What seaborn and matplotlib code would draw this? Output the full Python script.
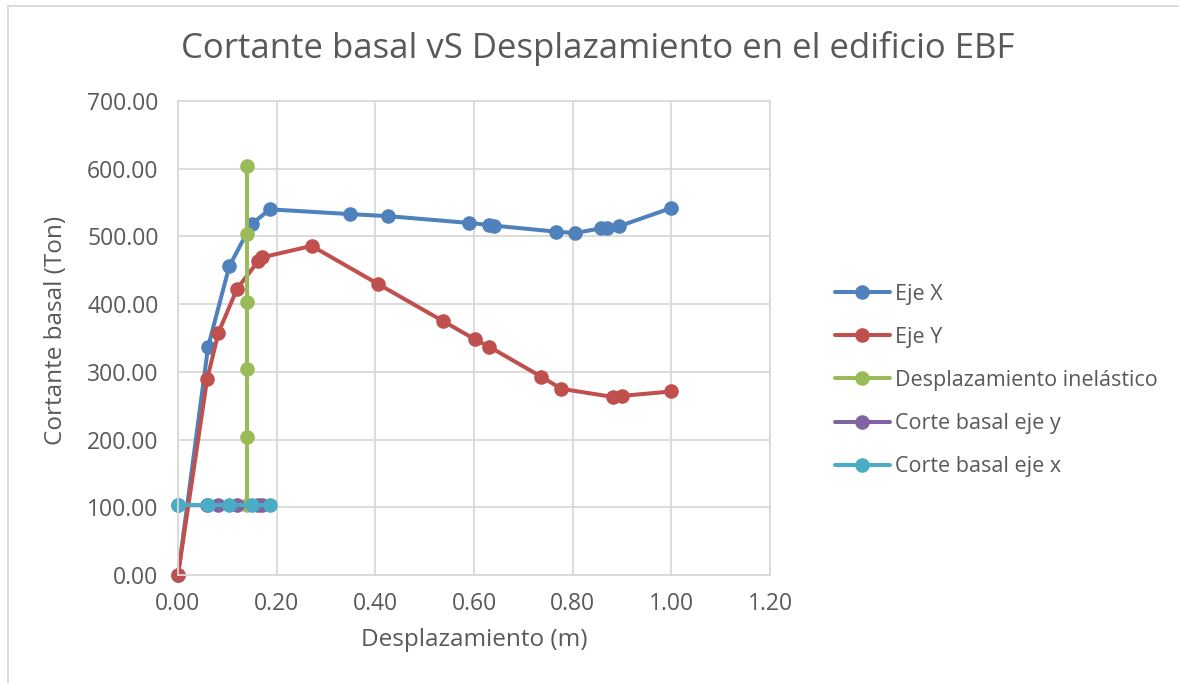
import matplotlib
matplotlib.use("Agg")
import matplotlib.pyplot as plt
import seaborn as sns
import pandas as pd
from matplotlib.patches import Rectangle

# Pushover curve, X direction
eje_x_disp = [0.0, 0.061, 0.104, 0.149, 0.186, 0.348, 0.425, 0.589, 0.630, 0.640,
              0.767, 0.805, 0.858, 0.870, 0.894, 1.0]
eje_x_shear = [0.0, 337, 456, 518, 540, 533, 530, 520, 517, 516,
               507, 505, 512, 512, 515, 542]

# Pushover curve, Y direction
eje_y_disp = [0.0, 0.059, 0.082, 0.120, 0.163, 0.170, 0.271, 0.405, 0.537, 0.602,
              0.631, 0.736, 0.777, 0.881, 0.899, 1.0]
eje_y_shear = [0.0, 289, 358, 423, 464, 469, 486, 430, 375, 348,
               337, 293, 275, 263, 264.5, 271]

# Inelastic displacement marker
inel_disp = [0.140, 0.140, 0.140, 0.140, 0.140, 0.140]
inel_shear = [103.5, 203.5, 303.5, 403.5, 503.5, 603.5]

# Design base shear, Y direction
corte_y_disp = [0.0, 0.059, 0.082, 0.120, 0.163, 0.170]
corte_y_shear = [103.5, 103.5, 103.5, 103.5, 103.5, 103.5]

# Design base shear, X direction
corte_x_disp = [0.0, 0.061, 0.104, 0.149, 0.186]
corte_x_shear = [103.5, 103.5, 103.5, 103.5, 103.5]

series_names = ["Eje X", "Eje Y", "Desplazamiento inelástico",
                "Corte basal eje y", "Corte basal eje x"]
series_data = [(eje_x_disp, eje_x_shear), (eje_y_disp, eje_y_shear),
               (inel_disp, inel_shear), (corte_y_disp, corte_y_shear),
               (corte_x_disp, corte_x_shear)]
colors = ["#4F81BD", "#C0504D", "#9BBB59", "#8064A2", "#4BACC6"]

x_ticks = [0.0, 0.2, 0.4, 0.6, 0.8, 1.0, 1.2]
y_ticks = [0, 100, 200, 300, 400, 500, 600, 700]

sns.set_theme(style="white")
plt.rcParams["font.family"] = ["Open Sans", "DejaVu Sans"]
text_color = "#595959"
grid_color = "#D9D9D9"

fig = plt.figure(figsize=(11.79, 6.83), dpi=100)
W, H = 1179, 683
ax = fig.add_axes([178 / W, 1 - 575 / H, (770 - 178) / W, (575 - 101) / H])

for name, (xs, ys), c in zip(series_names, series_data, colors):
    df = pd.DataFrame({"d": xs, "v": ys})
    sns.lineplot(data=df, x="d", y="v", ax=ax, sort=False, color=c,
                 linewidth=2.9, marker="o", markersize=10.5, markeredgewidth=0,
                 label=name, estimator=None, clip_on=False)

ax.set_xlim(0, 1.2)
ax.set_ylim(0, 700)
ax.set_xticks(x_ticks)
ax.set_yticks(y_ticks)
ax.set_xticklabels([f"{t:.2f}" for t in x_ticks])
ax.set_yticklabels([f"{t:.2f}" for t in y_ticks])
ax.tick_params(axis="both", colors=text_color, labelsize=16.5, length=0)
ax.tick_params(axis="x", pad=12)
ax.tick_params(axis="y", pad=14)
ax.grid(True, color=grid_color, linewidth=1.3)
ax.set_axisbelow(True)
for s in ax.spines.values():
    s.set_color(grid_color)
    s.set_linewidth(1.3)

ax.set_xlabel("Desplazamiento (m)", fontsize=17.5, color=text_color, va="center")
ax.set_ylabel("Cortante basal (Ton)", fontsize=17.5, color=text_color, va="center")
ax.xaxis.set_label_coords((474.5 - 178) / 592, (575 - 640) / 474)
ax.yaxis.set_label_coords((56 - 178) / 592, (575 - 330) / 474)

fig.text(597.5 / W, 1 - 48 / H, "Cortante basal vS Desplazamiento en el edificio EBF",
         ha="center", va="center", fontsize=25, color=text_color)

leg = ax.legend(loc="center left", bbox_to_anchor=(835 / W, 1 - 380.5 / H),
                bbox_transform=fig.transFigure, frameon=False, fontsize=15.5,
                handlelength=2.55, handletextpad=0.25, labelspacing=1.03,
                borderpad=0, borderaxespad=0, labelcolor=text_color)
for h in leg.legend_handles:
    h.set_markersize(10.5)

fig.patches.append(Rectangle((8 / W, -0.05), 1.2, 1 - 6 / H + 0.05,
                             transform=fig.transFigure, fill=False,
                             edgecolor="#D9D9D9", linewidth=1.3))

fig.savefig("out.png", dpi=100, facecolor="white")
